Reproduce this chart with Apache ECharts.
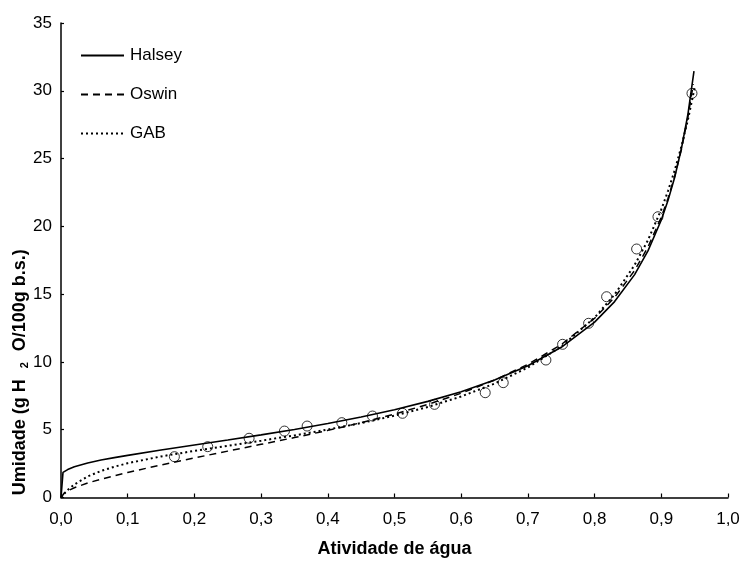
<!DOCTYPE html>
<html>
<head>
<meta charset="utf-8">
<script src="https://cdn.jsdelivr.net/npm/echarts@6/dist/echarts.min.js"></script>
<style>html,body{margin:0;padding:0;background:#fff}#c{width:741px;height:562px}</style>
</head>
<body>
<div id="c"></div>
<script>
// Observed points
const obsX = [0.170, 0.220, 0.282, 0.335, 0.369, 0.421, 0.467, 0.512, 0.560, 0.636, 0.663, 0.727, 0.752, 0.791, 0.818, 0.863, 0.895, 0.946];
const obsY = [3.01, 3.75, 4.37, 4.90, 5.27, 5.52, 6.01, 6.21, 6.87, 7.73, 8.47, 10.14, 11.30, 12.85, 14.81, 18.33, 20.71, 29.81];

// Halsey curve
const halseyX = [0, 0.003, 0.01, 0.02, 0.04, 0.06, 0.08, 0.1, 0.15, 0.2, 0.25, 0.3, 0.35, 0.4, 0.45, 0.5, 0.55, 0.6, 0.65, 0.7, 0.75, 0.8, 0.83, 0.86, 0.88, 0.9, 0.91, 0.92, 0.93, 0.94, 0.949];
const halseyY = [0, 1.85, 2.06, 2.27, 2.55, 2.76, 2.94, 3.11, 3.5, 3.87, 4.24, 4.62, 5.02, 5.46, 5.94, 6.47, 7.09, 7.8, 8.66, 9.72, 11.08, 12.94, 14.45, 16.44, 18.19, 20.47, 21.9, 23.6, 25.7, 28.3, 31.45];

// Oswin curve
const oswinX = [0, 0.005, 0.01, 0.02, 0.04, 0.06, 0.08, 0.1, 0.15, 0.2, 0.25, 0.3, 0.35, 0.4, 0.45, 0.5, 0.55, 0.6, 0.65, 0.7, 0.75, 0.8, 0.83, 0.86, 0.88, 0.9, 0.91, 0.92, 0.93, 0.94, 0.948];
const oswinY = [0, 0.33, 0.49, 0.72, 1.07, 1.35, 1.6, 1.85, 2.4, 2.92, 3.42, 3.92, 4.42, 4.95, 5.52, 6.15, 6.87, 7.69, 8.66, 9.82, 11.28, 13.22, 14.76, 16.75, 18.47, 20.68, 22.06, 23.68, 25.65, 28.09, 30.5];

// GAB curve
const gabX = [0, 0.005, 0.01, 0.02, 0.04, 0.06, 0.08, 0.1, 0.15, 0.2, 0.25, 0.3, 0.35, 0.4, 0.45, 0.5, 0.55, 0.6, 0.65, 0.7, 0.75, 0.8, 0.83, 0.86, 0.88, 0.9, 0.91, 0.92, 0.93, 0.94, 0.95];
const gabY = [0, 0.29, 0.55, 0.96, 1.55, 1.96, 2.27, 2.53, 3.03, 3.44, 3.81, 4.19, 4.58, 5.01, 5.49, 6.04, 6.68, 7.45, 8.4, 9.59, 11.14, 13.27, 14.97, 17.15, 18.98, 21.25, 22.6, 24.12, 25.87, 27.88, 30.23];

// Axes
const xTicks = [0, 0.1, 0.2, 0.3, 0.4, 0.5, 0.6, 0.7, 0.8, 0.9, 1.0];
const yTicks = [0, 5, 10, 15, 20, 25, 30, 35];
const seriesNames = ['Halsey', 'Oswin', 'GAB'];

const zip = (xs, ys) => xs.map((x, i) => [x, ys[i]]);
const FONT = '"Liberation Sans", Arial, sans-serif';

const chart = echarts.init(document.getElementById('c'), null, {renderer: 'canvas'});
chart.setOption({
  animation: false,
  backgroundColor: '#fff',
  textStyle: {fontFamily: FONT, color: '#000'},
  grid: {left: 61, right: 13, top: 23, bottom: 64.5, containLabel: false, outerBoundsMode: 'none'},
  legend: {
    orient: 'vertical', left: 75, top: 42,
    itemWidth: 43, itemHeight: 14, itemGap: 22,
    data: seriesNames,
    itemStyle: {opacity: 0},
    textStyle: {fontFamily: FONT, fontSize: 17, color: '#000', padding: [0, 0, 0, 1]}
  },
  xAxis: {
    type: 'value',
    min: xTicks[0], max: xTicks[xTicks.length - 1], interval: 0.1,
    name: 'Atividade de água', nameLocation: 'middle', nameGap: 43, nameMoveOverlap: false,
    nameTextStyle: {fontFamily: FONT, fontSize: 18, fontWeight: 'bold', color: '#000'},
    axisLine: {show: true, lineStyle: {color: '#000', width: 1.5}},
    axisTick: {show: true, inside: true, length: 4, lineStyle: {color: '#000', width: 1.2}},
    axisLabel: {margin: 13, fontSize: 17, color: '#000', fontFamily: FONT,
      formatter: v => v.toFixed(1).replace('.', ',')},
    splitLine: {show: false}
  },
  yAxis: {
    type: 'value',
    min: yTicks[0], max: yTicks[yTicks.length - 1], interval: 5,
    name: '{a|Umidade (g H}{b|2}{a|O/100g b.s.)}', nameLocation: 'middle', nameGap: 31, nameRotate: 90,
    nameMoveOverlap: false,
    nameTextStyle: {
      padding: [0, 224, 0, 0],
      rich: {
        a: {fontFamily: FONT, fontSize: 18, fontWeight: 'bold', color: '#000'},
        b: {fontFamily: FONT, fontSize: 11, fontWeight: 'bold', color: '#000', padding: [8, 11, 0, 11]}
      }
    },
    axisLine: {show: true, lineStyle: {color: '#000', width: 1.5}},
    axisTick: {show: true, inside: true, length: 3, lineStyle: {color: '#000', width: 1.2}},
    axisLabel: {margin: 9, fontSize: 17, color: '#000', fontFamily: FONT},
    splitLine: {show: false}
  },
  series: [
    {
      name: seriesNames[0], type: 'line', data: zip(halseyX, halseyY),
      showSymbol: false, symbol: 'none', smooth: false,
      lineStyle: {color: '#000', width: 1.6, type: 'solid'}, itemStyle: {color: '#000'}
    },
    {
      name: seriesNames[1], type: 'line', data: zip(oswinX, oswinY),
      showSymbol: false, symbol: 'none', smooth: false,
      lineStyle: {color: '#000', width: 1.5, type: [7, 5]}, itemStyle: {color: '#000'}
    },
    {
      name: seriesNames[2], type: 'line', data: zip(gabX, gabY),
      showSymbol: false, symbol: 'none', smooth: false,
      lineStyle: {color: '#000', width: 2, type: [2, 3]}, itemStyle: {color: '#000'}
    },
    {
      name: 'Experimental', type: 'scatter', data: zip(obsX, obsY),
      symbol: 'circle', symbolSize: 10,
      itemStyle: {color: 'rgba(0,0,0,0)', borderColor: '#000', borderWidth: 1}
    }
  ]
});
</script>
</body>
</html>
